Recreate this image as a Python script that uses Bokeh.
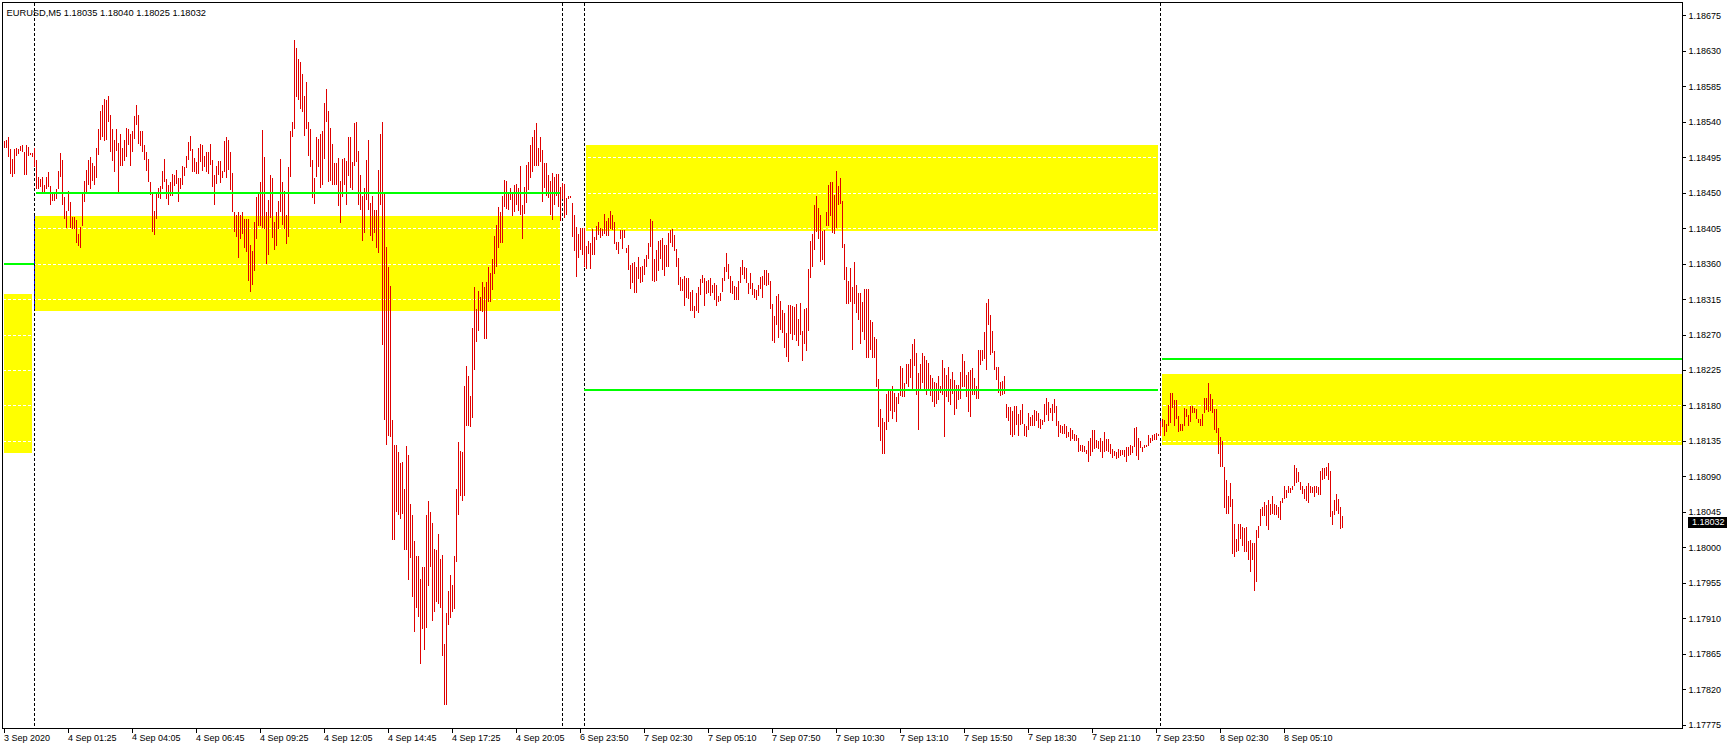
from bokeh.plotting import figure
from bokeh.models import Range1d, FixedTicker, Label, ColumnDataSource, PrintfTickFormatter, Div
from bokeh.embed import file_html
from bokeh.resources import INLINE

# ---------------- data ----------------
chart_header = "EURUSD,M5  1.18035 1.18040 1.18025 1.18032"
last_price = 1.18032

bar_high = [
1.18516, 1.18518, 1.18521, 1.18506, 1.18493, 1.18506, 1.18507, 1.18506, 1.18510, 1.18511,
1.18502, 1.18511, 1.18509, 1.18501, 1.18501, 1.18507, 1.18492, 1.18471, 1.18468, 1.18471,
1.18460, 1.18471, 1.18477, 1.18459, 1.18450, 1.18450, 1.18455, 1.18478, 1.18501, 1.18492,
1.18445, 1.18428, 1.18453, 1.18439, 1.18420, 1.18420, 1.18416, 1.18398, 1.18407, 1.18449,
1.18466, 1.18479, 1.18492, 1.18496, 1.18488, 1.18485, 1.18507, 1.18531, 1.18555, 1.18562,
1.18569, 1.18568, 1.18573, 1.18549, 1.18532, 1.18518, 1.18531, 1.18514, 1.18525, 1.18507,
1.18518, 1.18533, 1.18532, 1.18525, 1.18529, 1.18548, 1.18562, 1.18549, 1.18529, 1.18529,
1.18511, 1.18502, 1.18493, 1.18464, 1.18450, 1.18428, 1.18452, 1.18457, 1.18459, 1.18478,
1.18493, 1.18468, 1.18460, 1.18464, 1.18474, 1.18473, 1.18479, 1.18469, 1.18469, 1.18485,
1.18483, 1.18497, 1.18515, 1.18523, 1.18506, 1.18495, 1.18490, 1.18507, 1.18512, 1.18511,
1.18497, 1.18502, 1.18502, 1.18512, 1.18492, 1.18473, 1.18485, 1.18491, 1.18491, 1.18478,
1.18516, 1.18521, 1.18518, 1.18502, 1.18476, 1.18426, 1.18423, 1.18426, 1.18422, 1.18426,
1.18417, 1.18417, 1.18417, 1.18384, 1.18377, 1.18413, 1.18445, 1.18450, 1.18464, 1.18530,
1.18496, 1.18426, 1.18441, 1.18473, 1.18469, 1.18414, 1.18426, 1.18440, 1.18494, 1.18464,
1.18453, 1.18422, 1.18483, 1.18529, 1.18540, 1.18644, 1.18634, 1.18621, 1.18616, 1.18601,
1.18573, 1.18591, 1.18541, 1.18531, 1.18492, 1.18469, 1.18521, 1.18519, 1.18525, 1.18529,
1.18565, 1.18582, 1.18554, 1.18533, 1.18513, 1.18488, 1.18488, 1.18495, 1.18465, 1.18494,
1.18495, 1.18491, 1.18521, 1.18521, 1.18490, 1.18539, 1.18541, 1.18503, 1.18473, 1.18446,
1.18457, 1.18492, 1.18518, 1.18438, 1.18447, 1.18429, 1.18429, 1.18480, 1.18525, 1.18541,
1.18451, 1.18382, 1.18356, 1.18332, 1.18162, 1.18131, 1.18131, 1.18121, 1.18107, 1.18109,
1.18075, 1.18129, 1.18118, 1.18055, 1.18041, 1.18009, 1.17989, 1.17989, 1.17960, 1.17975,
1.17975, 1.18042, 1.18059, 1.18045, 1.18031, 1.17998, 1.17997, 1.18018, 1.17986, 1.17991,
1.17878, 1.17917, 1.17945, 1.17965, 1.17953, 1.17989, 1.18074, 1.18134, 1.18123, 1.18121,
1.18205, 1.18231, 1.18218, 1.18193, 1.18279, 1.18331, 1.18303, 1.18326, 1.18318, 1.18337,
1.18331, 1.18337, 1.18356, 1.18349, 1.18367, 1.18396, 1.18410, 1.18432, 1.18426, 1.18446,
1.18467, 1.18466, 1.18449, 1.18457, 1.18449, 1.18461, 1.18462, 1.18457, 1.18484, 1.18435,
1.18458, 1.18486, 1.18490, 1.18511, 1.18521, 1.18530, 1.18539, 1.18508, 1.18521, 1.18505,
1.18488, 1.18488, 1.18473, 1.18466, 1.18476, 1.18471, 1.18475, 1.18475, 1.18458, 1.18463,
1.18462, 1.18444, 1.18447, 1.18447, 1.18437, 1.18423, 1.18407, 1.18398, 1.18406, 1.18406,
1.18406, 1.18383, 1.18390, 1.18387, 1.18405, 1.18395, 1.18408, 1.18413, 1.18406, 1.18405,
1.18424, 1.18415, 1.18418, 1.18428, 1.18423, 1.18413, 1.18388, 1.18388, 1.18403, 1.18403,
1.18403, 1.18381, 1.18384, 1.18359, 1.18361, 1.18363, 1.18357, 1.18369, 1.18356, 1.18358,
1.18366, 1.18372, 1.18387, 1.18417, 1.18415, 1.18366, 1.18378, 1.18390, 1.18391, 1.18393,
1.18384, 1.18384, 1.18399, 1.18403, 1.18405, 1.18397, 1.18379, 1.18368, 1.18344, 1.18341,
1.18345, 1.18343, 1.18342, 1.18325, 1.18327, 1.18307, 1.18323, 1.18331, 1.18341, 1.18346,
1.18343, 1.18338, 1.18340, 1.18343, 1.18333, 1.18336, 1.18333, 1.18319, 1.18323, 1.18343,
1.18357, 1.18374, 1.18360, 1.18345, 1.18338, 1.18332, 1.18331, 1.18338, 1.18357, 1.18365,
1.18357, 1.18355, 1.18336, 1.18349, 1.18336, 1.18328, 1.18327, 1.18333, 1.18344, 1.18345,
1.18352, 1.18352, 1.18349, 1.18338, 1.18310, 1.18294, 1.18319, 1.18322, 1.18313, 1.18302,
1.18298, 1.18272, 1.18308, 1.18308, 1.18307, 1.18306, 1.18310, 1.18290, 1.18311, 1.18275,
1.18303, 1.18304, 1.18354, 1.18390, 1.18398, 1.18435, 1.18447, 1.18431, 1.18423, 1.18402,
1.18403, 1.18426, 1.18460, 1.18464, 1.18464, 1.18448, 1.18478, 1.18459, 1.18469, 1.18440,
1.18385, 1.18357, 1.18339, 1.18355, 1.18331, 1.18363, 1.18333, 1.18323, 1.18324, 1.18312,
1.18328, 1.18328, 1.18328, 1.18289, 1.18287, 1.18268, 1.18265, 1.18214, 1.18176, 1.18165,
1.18160, 1.18195, 1.18200, 1.18202, 1.18205, 1.18196, 1.18191, 1.18197, 1.18231, 1.18228,
1.18209, 1.18233, 1.18233, 1.18240, 1.18259, 1.18265, 1.18247, 1.18222, 1.18233, 1.18247,
1.18243, 1.18238, 1.18234, 1.18219, 1.18216, 1.18210, 1.18209, 1.18218, 1.18205, 1.18238,
1.18228, 1.18219, 1.18230, 1.18214, 1.18223, 1.18213, 1.18207, 1.18207, 1.18223, 1.18246,
1.18237, 1.18219, 1.18223, 1.18225, 1.18228, 1.18216, 1.18205, 1.18251, 1.18251, 1.18251,
1.18274, 1.18311, 1.18316, 1.18295, 1.18275, 1.18250, 1.18230, 1.18229, 1.18210, 1.18212,
1.18218, 1.18183, 1.18179, 1.18179, 1.18173, 1.18180, 1.18180, 1.18170, 1.18175, 1.18183,
1.18157, 1.18154, 1.18171, 1.18166, 1.18169, 1.18175, 1.18174, 1.18171, 1.18163, 1.18162,
1.18183, 1.18190, 1.18185, 1.18177, 1.18183, 1.18189, 1.18180, 1.18161, 1.18156, 1.18154,
1.18157, 1.18155, 1.18147, 1.18152, 1.18150, 1.18145, 1.18143, 1.18139, 1.18131, 1.18131,
1.18129, 1.18124, 1.18136, 1.18139, 1.18149, 1.18149, 1.18137, 1.18135, 1.18139, 1.18136,
1.18147, 1.18138, 1.18138, 1.18132, 1.18125, 1.18123, 1.18122, 1.18125, 1.18124, 1.18124,
1.18124, 1.18128, 1.18128, 1.18131, 1.18129, 1.18152, 1.18153, 1.18139, 1.18135, 1.18128,
1.18131, 1.18131, 1.18143, 1.18139, 1.18143, 1.18145, 1.18146, 1.18145, 1.18161, 1.18164,
1.18162, 1.18157, 1.18181, 1.18197, 1.18197, 1.18187, 1.18188, 1.18167, 1.18157, 1.18157,
1.18177, 1.18176, 1.18168, 1.18180, 1.18180, 1.18177, 1.18176, 1.18164, 1.18163, 1.18170,
1.18190, 1.18190, 1.18209, 1.18195, 1.18189, 1.18176, 1.18176, 1.18152, 1.18141, 1.18135,
1.18102, 1.18086, 1.18066, 1.18082, 1.18062, 1.18030, 1.18011, 1.18030, 1.18030, 1.18026,
1.18025, 1.18026, 1.18009, 1.18010, 1.18006, 1.18006, 1.18022, 1.18028, 1.18049, 1.18052,
1.18058, 1.18054, 1.18060, 1.18055, 1.18066, 1.18056, 1.18054, 1.18052, 1.18059, 1.18063,
1.18078, 1.18073, 1.18079, 1.18076, 1.18079, 1.18105, 1.18101, 1.18096, 1.18083, 1.18079,
1.18075, 1.18078, 1.18082, 1.18078, 1.18077, 1.18078, 1.18078, 1.18077, 1.18097, 1.18101,
1.18101, 1.18102, 1.18107, 1.18097, 1.18047, 1.18060, 1.18068, 1.18062, 1.18052, 1.18040,
]

bar_low = [
1.18507, 1.18507, 1.18496, 1.18474, 1.18471, 1.18474, 1.18497, 1.18500, 1.18503, 1.18502,
1.18473, 1.18473, 1.18497, 1.18498, 1.18496, 1.18483, 1.18456, 1.18456, 1.18458, 1.18450,
1.18449, 1.18456, 1.18458, 1.18435, 1.18440, 1.18440, 1.18443, 1.18455, 1.18471, 1.18435,
1.18417, 1.18406, 1.18427, 1.18406, 1.18405, 1.18404, 1.18387, 1.18383, 1.18381, 1.18408,
1.18439, 1.18450, 1.18460, 1.18456, 1.18466, 1.18460, 1.18469, 1.18498, 1.18517, 1.18521,
1.18516, 1.18517, 1.18541, 1.18502, 1.18491, 1.18477, 1.18503, 1.18452, 1.18485, 1.18485,
1.18491, 1.18496, 1.18511, 1.18485, 1.18502, 1.18519, 1.18537, 1.18513, 1.18510, 1.18502,
1.18492, 1.18478, 1.18464, 1.18448, 1.18401, 1.18397, 1.18417, 1.18444, 1.18443, 1.18456,
1.18464, 1.18443, 1.18435, 1.18447, 1.18447, 1.18459, 1.18462, 1.18439, 1.18456, 1.18461,
1.18472, 1.18482, 1.18492, 1.18503, 1.18477, 1.18477, 1.18475, 1.18475, 1.18490, 1.18478,
1.18483, 1.18477, 1.18475, 1.18486, 1.18458, 1.18435, 1.18462, 1.18473, 1.18463, 1.18469,
1.18477, 1.18469, 1.18479, 1.18454, 1.18426, 1.18401, 1.18394, 1.18368, 1.18392, 1.18398,
1.18381, 1.18376, 1.18339, 1.18325, 1.18333, 1.18351, 1.18392, 1.18409, 1.18408, 1.18406,
1.18405, 1.18360, 1.18371, 1.18418, 1.18393, 1.18378, 1.18383, 1.18405, 1.18426, 1.18410,
1.18405, 1.18385, 1.18395, 1.18471, 1.18521, 1.18531, 1.18572, 1.18568, 1.18557, 1.18553,
1.18523, 1.18531, 1.18497, 1.18483, 1.18444, 1.18436, 1.18471, 1.18483, 1.18457, 1.18460,
1.18494, 1.18540, 1.18464, 1.18466, 1.18461, 1.18460, 1.18460, 1.18434, 1.18412, 1.18445,
1.18460, 1.18435, 1.18472, 1.18457, 1.18454, 1.18484, 1.18490, 1.18435, 1.18429, 1.18389,
1.18399, 1.18442, 1.18429, 1.18396, 1.18389, 1.18400, 1.18381, 1.18374, 1.18435, 1.18257,
1.18162, 1.18131, 1.18142, 1.18140, 1.18010, 1.18010, 1.18045, 1.18041, 1.18037, 1.18043,
1.17997, 1.17997, 1.17959, 1.17987, 1.17938, 1.17893, 1.17924, 1.17912, 1.17853, 1.17897,
1.17870, 1.17898, 1.17952, 1.17975, 1.17907, 1.17919, 1.17931, 1.17929, 1.17924, 1.17863,
1.17801, 1.17801, 1.17902, 1.17911, 1.17919, 1.17922, 1.17982, 1.18042, 1.18066, 1.18059,
1.18066, 1.18155, 1.18154, 1.18153, 1.18165, 1.18225, 1.18261, 1.18275, 1.18300, 1.18299,
1.18265, 1.18265, 1.18312, 1.18312, 1.18327, 1.18348, 1.18356, 1.18380, 1.18387, 1.18387,
1.18433, 1.18430, 1.18429, 1.18441, 1.18421, 1.18426, 1.18435, 1.18428, 1.18423, 1.18392,
1.18424, 1.18438, 1.18454, 1.18469, 1.18477, 1.18484, 1.18485, 1.18485, 1.18490, 1.18439,
1.18457, 1.18446, 1.18444, 1.18422, 1.18416, 1.18435, 1.18447, 1.18433, 1.18415, 1.18443,
1.18419, 1.18422, 1.18443, 1.18444, 1.18395, 1.18377, 1.18344, 1.18368, 1.18378, 1.18371,
1.18356, 1.18354, 1.18373, 1.18354, 1.18371, 1.18372, 1.18391, 1.18397, 1.18393, 1.18396,
1.18398, 1.18396, 1.18396, 1.18405, 1.18403, 1.18385, 1.18378, 1.18373, 1.18392, 1.18379,
1.18393, 1.18374, 1.18353, 1.18328, 1.18336, 1.18323, 1.18324, 1.18341, 1.18336, 1.18337,
1.18346, 1.18356, 1.18366, 1.18382, 1.18339, 1.18337, 1.18339, 1.18351, 1.18367, 1.18352,
1.18345, 1.18356, 1.18356, 1.18387, 1.18382, 1.18377, 1.18357, 1.18334, 1.18326, 1.18326,
1.18307, 1.18317, 1.18316, 1.18300, 1.18300, 1.18292, 1.18300, 1.18298, 1.18321, 1.18336,
1.18307, 1.18322, 1.18324, 1.18319, 1.18323, 1.18315, 1.18307, 1.18312, 1.18313, 1.18325,
1.18338, 1.18350, 1.18341, 1.18323, 1.18322, 1.18315, 1.18314, 1.18315, 1.18336, 1.18346,
1.18341, 1.18336, 1.18322, 1.18328, 1.18321, 1.18317, 1.18315, 1.18319, 1.18328, 1.18317,
1.18333, 1.18332, 1.18333, 1.18303, 1.18262, 1.18260, 1.18283, 1.18266, 1.18276, 1.18273,
1.18254, 1.18242, 1.18236, 1.18271, 1.18264, 1.18270, 1.18262, 1.18256, 1.18270, 1.18237,
1.18259, 1.18250, 1.18275, 1.18342, 1.18357, 1.18378, 1.18401, 1.18392, 1.18363, 1.18365,
1.18359, 1.18408, 1.18409, 1.18421, 1.18400, 1.18398, 1.18406, 1.18435, 1.18436, 1.18381,
1.18340, 1.18310, 1.18309, 1.18312, 1.18251, 1.18310, 1.18298, 1.18289, 1.18258, 1.18274,
1.18264, 1.18241, 1.18241, 1.18251, 1.18241, 1.18241, 1.18204, 1.18153, 1.18135, 1.18119,
1.18119, 1.18150, 1.18159, 1.18174, 1.18164, 1.18172, 1.18160, 1.18183, 1.18192, 1.18191,
1.18191, 1.18208, 1.18204, 1.18215, 1.18200, 1.18231, 1.18194, 1.18150, 1.18199, 1.18209,
1.18201, 1.18194, 1.18202, 1.18192, 1.18185, 1.18179, 1.18183, 1.18188, 1.18196, 1.18194,
1.18141, 1.18191, 1.18185, 1.18181, 1.18195, 1.18168, 1.18176, 1.18188, 1.18189, 1.18204,
1.18204, 1.18191, 1.18172, 1.18166, 1.18194, 1.18194, 1.18189, 1.18189, 1.18232, 1.18237,
1.18240, 1.18225, 1.18283, 1.18245, 1.18247, 1.18225, 1.18213, 1.18196, 1.18192, 1.18194,
1.18195, 1.18165, 1.18161, 1.18143, 1.18141, 1.18143, 1.18156, 1.18142, 1.18156, 1.18157,
1.18142, 1.18140, 1.18150, 1.18154, 1.18154, 1.18154, 1.18161, 1.18152, 1.18151, 1.18156,
1.18160, 1.18169, 1.18161, 1.18171, 1.18161, 1.18171, 1.18155, 1.18141, 1.18146, 1.18145,
1.18145, 1.18139, 1.18141, 1.18136, 1.18138, 1.18136, 1.18136, 1.18122, 1.18123, 1.18122,
1.18122, 1.18119, 1.18109, 1.18116, 1.18122, 1.18125, 1.18127, 1.18125, 1.18122, 1.18114,
1.18121, 1.18123, 1.18121, 1.18119, 1.18114, 1.18116, 1.18113, 1.18114, 1.18116, 1.18118,
1.18115, 1.18109, 1.18117, 1.18118, 1.18120, 1.18128, 1.18117, 1.18112, 1.18127, 1.18122,
1.18127, 1.18128, 1.18129, 1.18133, 1.18136, 1.18137, 1.18137, 1.18142, 1.18142, 1.18153,
1.18142, 1.18147, 1.18155, 1.18158, 1.18177, 1.18155, 1.18164, 1.18147, 1.18148, 1.18148,
1.18155, 1.18166, 1.18155, 1.18159, 1.18171, 1.18171, 1.18163, 1.18158, 1.18155, 1.18155,
1.18171, 1.18175, 1.18172, 1.18173, 1.18171, 1.18149, 1.18146, 1.18119, 1.18102, 1.18102,
1.18051, 1.18043, 1.18043, 1.18052, 1.17992, 1.17988, 1.17995, 1.17996, 1.18011, 1.18002,
1.17995, 1.17995, 1.17984, 1.17969, 1.17985, 1.17945, 1.17957, 1.18012, 1.18028, 1.18040,
1.18040, 1.18027, 1.18022, 1.18041, 1.18043, 1.18041, 1.18042, 1.18038, 1.18035, 1.18057,
1.18062, 1.18063, 1.18069, 1.18069, 1.18073, 1.18078, 1.18082, 1.18083, 1.18073, 1.18068,
1.18062, 1.18059, 1.18057, 1.18070, 1.18069, 1.18065, 1.18069, 1.18067, 1.18067, 1.18086,
1.18087, 1.18091, 1.18086, 1.18039, 1.18029, 1.18041, 1.18047, 1.18043, 1.18024, 1.18025,
]

time_tick_bars = [0, 32, 64, 96, 128, 160, 192, 224, 256, 288, 320,
                  352, 384, 416, 448, 480, 512, 544, 576, 608, 640]
time_tick_labels = ["3 Sep 2020", "4 Sep 01:25", "4 Sep 04:05", "4 Sep 06:45", "4 Sep 09:25",
                    "4 Sep 12:05", "4 Sep 14:45", "4 Sep 17:25", "4 Sep 20:05", "6 Sep 23:50",
                    "7 Sep 02:30", "7 Sep 05:10", "7 Sep 07:50", "7 Sep 10:30", "7 Sep 13:10",
                    "7 Sep 15:50", "7 Sep 18:30", "7 Sep 21:10", "7 Sep 23:50", "8 Sep 02:30",
                    "8 Sep 05:10"]
price_ticks = [1.17775, 1.17820, 1.17865, 1.17910, 1.17955, 1.18000, 1.18045, 1.18090,
               1.18135, 1.18180, 1.18225, 1.18270, 1.18315, 1.18360, 1.18405, 1.18450,
               1.18495, 1.18540, 1.18585, 1.18630, 1.18675]
day_separator_bars = [15, 279, 290, 578]

# supply / demand zones (bar-index span, price span)
zone_start_bar = [-0.25, 14.75, 290.75, 578.75]
zone_end_bar = [13.75, 277.75, 577.0, 839.25]
zone_top = [1.18322, 1.18421, 1.18511, 1.18221]
zone_bottom = [1.18120, 1.18301, 1.18402, 1.18131]

# horizontal levels (bar-index span, price)
level_start_bar = [-0.25, 15.9, 290.1, 579.1]
level_end_bar = [14.9, 278.0, 577.1, 839.25]
level_price = [1.18360, 1.18450, 1.18200, 1.18240]

# ---------------- layout ----------------
W, H = 1727, 750
FRAME_L, FRAME_T, FRAME_R, FRAME_B = 2, 2, 1682, 729
PX_PER_BAR = 2.0
X_START = -0.75
X_END = X_START + (FRAME_R - FRAME_L) / PX_PER_BAR
PRICE_PER_PX = (price_ticks[-1] - price_ticks[0]) / 710.0
TOP_TICK_PX = 15.5
Y_TOP = price_ticks[-1] + (TOP_TICK_PX - FRAME_T) * PRICE_PER_PX
Y_BOT = Y_TOP - (FRAME_B - FRAME_T) * PRICE_PER_PX
BAR_WIDTH = 1.0 / PX_PER_BAR   # one pixel wide


def x_at(px):
    return X_START + (px - FRAME_L) / PX_PER_BAR


def y_at(py):
    return Y_TOP - (py - FRAME_T) * PRICE_PER_PX


FONT = "Liberation Sans"
BAR_RED = "#e00000"

p = figure(width=W, height=H, output_backend="svg", toolbar_location=None,
           x_range=Range1d(X_START, X_END), y_range=Range1d(Y_BOT, Y_TOP),
           y_axis_location="right",
           min_border_left=FRAME_L, min_border_top=FRAME_T,
           min_border_right=W - FRAME_R, min_border_bottom=H - FRAME_B,
           background_fill_color="white", border_fill_color="white",
           styles={"position": "absolute", "left": "0px", "top": "0px",
                   "shape-rendering": "crispEdges"})
p.title.visible = False
p.xgrid.visible = False
p.ygrid.visible = False
p.outline_line_color = "black"
p.outline_line_width = 1
p.outline_line_alpha = 1.0

# zones (background)
p.quad(left=zone_start_bar, right=zone_end_bar, top=zone_top, bottom=zone_bottom,
       fill_color="#ffff00", line_color=None)

# price grid (white dotted, only visible over the zones)
p.segment(x0=[X_START] * len(price_ticks), x1=[X_END] * len(price_ticks),
          y0=price_ticks, y1=price_ticks, line_color="white", line_width=1, line_dash="3 2")

# day separators (XOR style: black on white, blue over yellow)
p.segment(x0=day_separator_bars, x1=day_separator_bars,
          y0=[Y_TOP] * len(day_separator_bars), y1=[Y_BOT] * len(day_separator_bars),
          line_color="black", line_width=1, line_dash="3 2")
bx, bt, bb = [], [], []
for s in day_separator_bars:
    for z0, z1, zt, zb in zip(zone_start_bar, zone_end_bar, zone_top, zone_bottom):
        if z0 <= s <= z1:
            bx.append(s); bt.append(zt); bb.append(zb)
if bx:
    p.segment(x0=bx, x1=bx, y0=bt, y1=bb, line_color="#0000ff", line_width=1, line_dash="3 2")

# OHLC bars (high-low), one pixel wide
bars = ColumnDataSource(dict(i=list(range(len(bar_high))), high=bar_high, low=bar_low))
p.vbar(x="i", width=BAR_WIDTH, top="high", bottom="low", source=bars,
       fill_color=BAR_RED, line_color=None)

# horizontal levels
p.segment(x0=level_start_bar, x1=level_end_bar, y0=level_price, y1=level_price,
          line_color="#00ff00", line_width=2)

# axes
p.yaxis.ticker = FixedTicker(ticks=price_ticks)
p.yaxis.formatter = PrintfTickFormatter(format="%.5f")
p.yaxis.major_tick_in = 0
p.yaxis.major_tick_out = 3
p.yaxis.minor_tick_line_color = None
p.yaxis.major_label_standoff = 3
p.yaxis.major_label_text_font = FONT
p.yaxis.major_label_text_font_size = "9px"
p.yaxis.major_label_text_color = "black"
p.yaxis.axis_line_color = "black"

p.xaxis.ticker = FixedTicker(ticks=time_tick_bars)
p.xaxis.major_label_overrides = {t: lab for t, lab in zip(time_tick_bars, time_tick_labels)}
p.xaxis.major_label_orientation = -0.0001   # labels start at the tick (left aligned)
p.xaxis.major_tick_in = 0
p.xaxis.major_tick_out = 4
p.xaxis.minor_tick_line_color = None
p.xaxis.major_label_standoff = 5
p.xaxis.major_label_text_font = FONT
p.xaxis.major_label_text_font_size = "9px"
p.xaxis.major_label_text_color = "black"
p.xaxis.axis_line_color = "black"

p.add_layout(Label(x=x_at(6), y=y_at(13), text=chart_header, text_align="left",
                   text_baseline="alphabetic", text_font=FONT, text_font_size="9.3px",
                   text_color="black"))

# current price tag on the price scale
price_tag = Div(text="%.5f" % last_price, width=41, height=11,
                styles={"position": "absolute", "left": "1683px", "top": "512px",
                        "background-color": "black", "color": "white",
                        "font-family": "'Liberation Sans', sans-serif", "font-size": "9px",
                        "line-height": "11px", "padding-left": "4px", "box-sizing": "border-box",
                        "overflow": "hidden", "white-space": "nowrap"})

open("out.html", "w").write(file_html((p, price_tag), INLINE))
